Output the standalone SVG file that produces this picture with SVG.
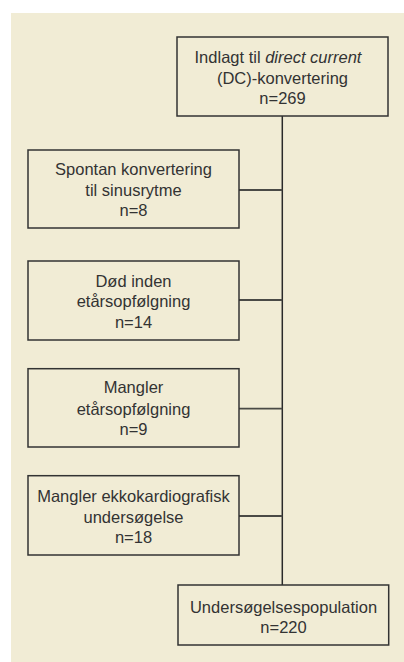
<svg xmlns="http://www.w3.org/2000/svg" width="404" height="662" viewBox="0 0 404 662">
<style>
.box{fill:none;stroke:#333;stroke-width:1.5}
.t{font-family:"Liberation Sans",Arial,sans-serif;font-size:16.5px;fill:#333;text-anchor:middle}
.c{stroke:#2a2a2a;stroke-width:1.5;fill:none}
.h{stroke:#4a4a46;stroke-width:1.8;fill:none}
</style>
<rect x="11" y="13" width="393" height="649" fill="#f1ecd5"/>
<g id="connectors">
<line class="c" x1="282.3" y1="116" x2="282.3" y2="585"/>
<line class="h" x1="239" y1="190" x2="282.3" y2="190"/>
<line class="h" x1="239" y1="300" x2="282.3" y2="300"/>
<line class="h" x1="239" y1="408.7" x2="282.3" y2="408.7"/>
<line class="h" x1="239" y1="516" x2="282.3" y2="516"/>
</g>
<g id="n1">
<rect class="box" x="177" y="37" width="211" height="79"/>
<text class="t" x="278" y="63">Indlagt til <tspan font-style="italic">direct current</tspan></text>
<text class="t" x="282.5" y="84">(DC)-konvertering</text>
<text class="t" x="282.5" y="104">n=269</text>
</g>
<g id="n2">
<rect class="box" x="28" y="150" width="211" height="78"/>
<text class="t" x="133.5" y="175">Spontan konvertering</text>
<text class="t" x="133.5" y="196">til sinusrytme</text>
<text class="t" x="133.5" y="216">n=8</text>
</g>
<g id="n3">
<rect class="box" x="28" y="261" width="211" height="79"/>
<text class="t" x="133.5" y="286.7">Død inden</text>
<text class="t" x="133.5" y="307">etårsopfølgning</text>
<text class="t" x="133.5" y="328">n=14</text>
</g>
<g id="n4">
<rect class="box" x="28" y="368.7" width="211" height="78.3"/>
<text class="t" x="133.5" y="393">Mangler</text>
<text class="t" x="133.5" y="415">etårsopfølgning</text>
<text class="t" x="133.5" y="435">n=9</text>
</g>
<g id="n5">
<rect class="box" x="28" y="475.7" width="211" height="79.3"/>
<text class="t" x="133.5" y="501.7">Mangler ekkokardiografisk</text>
<text class="t" x="133.5" y="522.7">undersøgelse</text>
<text class="t" x="133.5" y="542.7">n=18</text>
</g>
<g id="n6">
<rect class="box" x="178" y="585" width="210.7" height="60"/>
<text class="t" x="283.5" y="613">Undersøgelsespopulation</text>
<text class="t" x="283.5" y="633">n=220</text>
</g>
</svg>
